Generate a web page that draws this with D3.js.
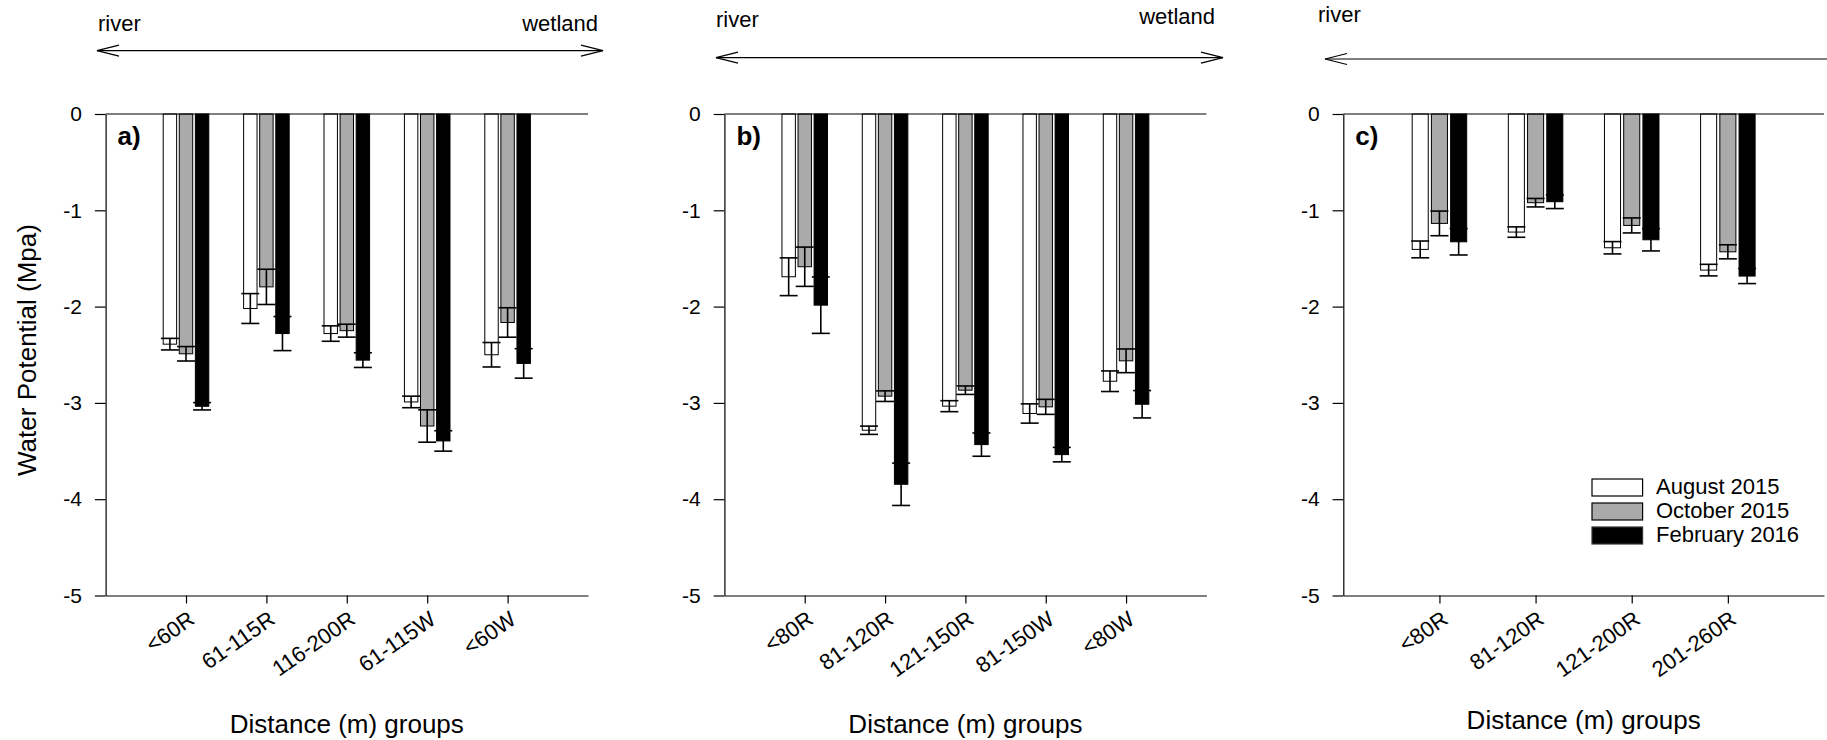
<!DOCTYPE html>
<html>
<head>
<meta charset="utf-8">
<script src="https://cdn.jsdelivr.net/npm/d3@7"></script>
<style>
  body { margin: 0; background: #fff; }
  text { font-family: "Liberation Sans", Arial, sans-serif; fill: #000; }
</style>
</head>
<body>
<svg id="chart" width="1827" height="740"></svg>
<script>
// distance groups for each transect
const groupsA = ['<60R', '61-115R', '116-200R', '61-115W', '<60W'];
const groupsB = ['<80R', '81-120R', '121-150R', '81-150W', '<80W'];
const groupsC = ['<80R', '81-120R', '121-200R', '201-260R'];

const seasons = ['August 2015', 'October 2015', 'February 2016'];

// mean water potential (MPa) and standard error - transect a
const augA = [-2.39, -2.02, -2.28, -2.99, -2.50];
const augSeA = [0.06, 0.155, 0.08, 0.06, 0.127];
const octA = [-2.49, -1.795, -2.25, -3.24, -2.165];
const octSeA = [0.075, 0.183, 0.067, 0.168, 0.153];
const febA = [-3.035, -2.28, -2.556, -3.395, -2.59];
const febSeA = [0.038, 0.177, 0.076, 0.106, 0.153];

// transect b
const augB = [-1.69, -3.284, -3.034, -3.11, -2.775];
const augSeB = [0.196, 0.043, 0.057, 0.1, 0.107];
const octB = [-1.586, -2.93, -2.868, -3.041, -2.563];
const octSeB = [0.204, 0.055, 0.044, 0.078, 0.123];
const febB = [-1.985, -3.845, -3.433, -3.537, -3.014];
const febSeB = [0.293, 0.22, 0.121, 0.075, 0.142];

// transect c
const augC = [-1.406, -1.226, -1.389, -1.621];
const augSeC = [0.087, 0.054, 0.064, 0.06];
const octC = [-1.136, -0.921, -1.157, -1.431];
const octSeC = [0.128, 0.044, 0.078, 0.073];
const febC = [-1.327, -0.911, -1.306, -1.683];
const febSeC = [0.137, 0.071, 0.116, 0.078];

const yTicks = [0, -1, -2, -3, -4, -5];

// fills for the three sampling dates
const fills = ['#ffffff', '#aaaaaa', '#000000'];

const svg = d3.select('#chart');

// arrow head (open chevron)
function chevron(g, x, y, dir) {
    g.append('path')
        .attr('d', `M${x + dir * 22},${y - 5.5}L${x},${y}L${x + dir * 22},${y + 5.5}`)
        .attr('fill', 'none')
        .attr('stroke', '#000')
        .attr('stroke-width', 1.2);
}

let panels = [
    {
        groups: groupsA, means: [augA, octA, febA], ses: [augSeA, octSeA, febSeA],
        left: 105.6, right: 588, steps: 6, label: 'a)',
        arrow: { x1: 97, x2: 603, y: 50.7, heads: [true, true] },
        river: { x: 98, y: 31 }, wetland: { x: 598, y: 31 },
        titleY: 733
    },
    {
        groups: groupsB, means: [augB, octB, febB], ses: [augSeB, octSeB, febSeB],
        left: 724.4, right: 1206.4, steps: 6, label: 'b)',
        arrow: { x1: 716, x2: 1223, y: 57.7, heads: [true, true] },
        river: { x: 716, y: 27 }, wetland: { x: 1215, y: 23.5 },
        titleY: 733
    },
    {
        groups: groupsC, means: [augC, octC, febC], ses: [augSeC, octSeC, febSeC],
        left: 1343.3, right: 1824, steps: 5, label: 'c)',
        arrow: { x1: 1325, x2: 1827, y: 59, heads: [true, false] },
        river: { x: 1318, y: 22 }, wetland: null,
        titleY: 729
    }
];

// y scale shared by all panels
let y = d3.scaleLinear()
    .domain([-5, 0])
    .range([595.5, 114]);

panels.forEach(function (p) {
    let g = svg.append('g').attr('class', 'panel');

    // group positions sit at 1..n on a 0..steps scale
    let x = d3.scaleLinear()
        .domain([0, p.steps])
        .range([p.left, p.right]);
    let step = x(1) - x(0);
    let barW = step * 0.167;
    let pitch = step * 0.2;

    // river / wetland arrow above the plot
    g.append('line')
        .attr('x1', p.arrow.x1).attr('x2', p.arrow.x2)
        .attr('y1', p.arrow.y).attr('y2', p.arrow.y)
        .attr('stroke', '#000').attr('stroke-width', 1.2);
    if (p.arrow.heads[0]) chevron(g, p.arrow.x1, p.arrow.y, 1);
    if (p.arrow.heads[1]) chevron(g, p.arrow.x2, p.arrow.y, -1);
    g.append('text')
        .attr('x', p.river.x).attr('y', p.river.y)
        .style('font-size', '22px')
        .text('river');
    if (p.wetland) {
        g.append('text')
            .attr('x', p.wetland.x).attr('y', p.wetland.y)
            .attr('text-anchor', 'end')
            .style('font-size', '22px')
            .text('wetland');
    }

    // bars
    p.means.forEach(function (series, k) {
        let data = series.map((v, i) => ({ i: i, v: v, se: p.ses[k][i] }));
        let cx = d => x(d.i + 1) + (k - 1) * pitch;

        g.selectAll(null)
            .data(data)
            .enter()
            .append('rect')
            .attr('x', d => cx(d) - barW / 2)
            .attr('y', y(0))
            .attr('width', barW)
            .attr('height', d => y(d.v) - y(0))
            .attr('fill', fills[k])
            .attr('stroke', '#000')
            .attr('stroke-width', 1);

        // error bars
        let eb = g.selectAll(null)
            .data(data)
            .enter()
            .append('g')
            .attr('stroke', '#000')
            .attr('stroke-width', 1.6);
        eb.append('line')
            .attr('x1', cx).attr('x2', cx)
            .attr('y1', d => y(d.v + d.se))
            .attr('y2', d => y(d.v - d.se));
        eb.append('line')
            .attr('x1', d => cx(d) - 9).attr('x2', d => cx(d) + 9)
            .attr('y1', d => y(d.v + d.se)).attr('y2', d => y(d.v + d.se));
        eb.append('line')
            .attr('x1', d => cx(d) - 9).attr('x2', d => cx(d) + 9)
            .attr('y1', d => y(d.v - d.se)).attr('y2', d => y(d.v - d.se));
    });

    // zero line along the top
    g.append('line')
        .attr('x1', p.left).attr('x2', p.right)
        .attr('y1', y(0)).attr('y2', y(0))
        .attr('stroke', '#000').attr('stroke-width', 1.2);

    // y axis
    let yAxis = d3.axisLeft(y)
        .tickValues(yTicks)
        .tickFormat(d => String(d))
        .tickSize(10.7)
        .tickSizeOuter(0)
        .tickPadding(13);
    let ya = g.append('g')
        .attr('transform', `translate(${p.left},0)`)
        .call(yAxis);
    ya.selectAll('text').style('font-size', '21px').style('font-family', '"Liberation Sans", Arial, sans-serif');

    // x axis at the bottom
    let xAxis = d3.axisBottom(x)
        .tickValues(p.groups.map((d, i) => i + 1))
        .tickFormat('')
        .tickSize(8)
        .tickSizeOuter(0);
    g.append('g')
        .attr('transform', `translate(0,${y(-5)})`)
        .call(xAxis);
    g.selectAll('.domain, .tick line').attr('stroke', '#000').attr('stroke-width', 1.2);

    // rotated group labels
    g.selectAll(null)
        .data(p.groups)
        .enter()
        .append('text')
        .attr('transform', (d, i) => `translate(${x(i + 1) + 10},${y(-5) + 27}) rotate(-35)`)
        .attr('text-anchor', 'end')
        .style('font-size', '22px')
        .text(d => d);

    // panel letter
    g.append('text')
        .attr('x', p.left + 12).attr('y', 145)
        .style('font-size', '26px')
        .style('font-weight', 'bold')
        .text(p.label);

    // x title
    g.append('text')
        .attr('x', (p.left + p.right) / 2).attr('y', p.titleY)
        .attr('text-anchor', 'middle')
        .style('font-size', '26px')
        .text('Distance (m) groups');
});

// y title
svg.append('text')
    .attr('transform', 'translate(36,350) rotate(-90)')
    .attr('text-anchor', 'middle')
    .style('font-size', '26px')
    .text('Water Potential (Mpa)');

// legend inside panel c
let legend = svg.append('g').attr('transform', 'translate(1592,479)');
legend.selectAll('rect')
    .data(seasons)
    .enter()
    .append('rect')
    .attr('x', 0)
    .attr('y', (d, i) => i * 24)
    .attr('width', 50.6)
    .attr('height', 17)
    .attr('fill', (d, i) => fills[i])
    .attr('stroke', (d, i) => i == 2 ? '#333' : '#000')
    .attr('stroke-width', 1.2);
legend.selectAll('text')
    .data(seasons)
    .enter()
    .append('text')
    .attr('x', 64)
    .attr('y', (d, i) => i * 24 + 15)
    .style('font-size', '22px')
    .text(d => d);
</script>
</body>
</html>
